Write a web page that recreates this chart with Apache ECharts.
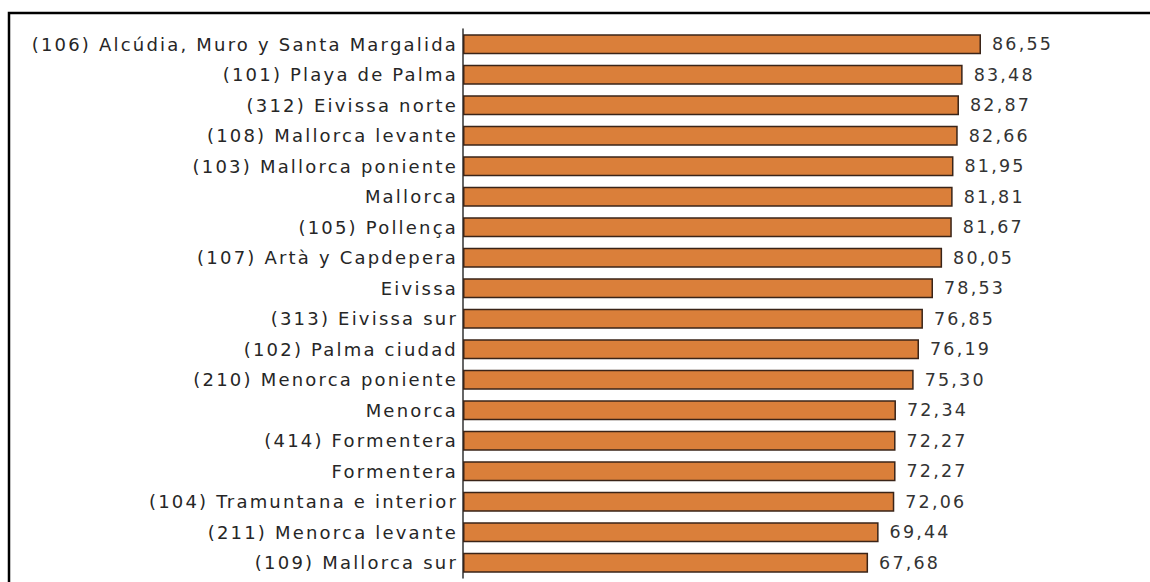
<!DOCTYPE html>
<html><head><meta charset="utf-8">
<script src="https://cdn.jsdelivr.net/npm/echarts@6/dist/echarts.min.js"></script>
<style>html,body{margin:0;padding:0;background:#fff}#c{width:1150px;height:582px}
#c text{letter-spacing:2.2px}
</style>
</head><body><div id="c"></div>
<script>
const categories = [
  "(106) Alcúdia, Muro y Santa Margalida",
  "(101) Playa de Palma",
  "(312) Eivissa norte",
  "(108) Mallorca levante",
  "(103) Mallorca poniente",
  "Mallorca",
  "(105) Pollença",
  "(107) Artà y Capdepera",
  "Eivissa",
  "(313) Eivissa sur",
  "(102) Palma ciudad",
  "(210) Menorca poniente",
  "Menorca",
  "(414) Formentera",
  "Formentera",
  "(104) Tramuntana e interior",
  "(211) Menorca levante",
  "(109) Mallorca sur"
];
const values = [86.55, 83.48, 82.87, 82.66, 81.95, 81.81, 81.67, 80.05, 78.53, 76.85, 76.19, 75.30, 72.34, 72.27, 72.27, 72.06, 69.44, 67.68];

const chart = echarts.init(document.getElementById('c'), null, {renderer: 'svg'});
chart.setOption({
  animation: false,
  backgroundColor: '#fff',
  grid: {left: 463, right: 88.5, top: 29, bottom: 4, containLabel: false},
  xAxis: {type: 'value', min: 0, max: 100, show: false},
  yAxis: {
    type: 'category', data: categories, inverse: true,
    axisLine: {show: true, lineStyle: {color: '#333', width: 1.5}},
    axisTick: {show: false},
    axisLabel: {color: '#262626', fontFamily: 'DejaVu Sans', fontSize: 18, margin: 5}
  },
  series: [{
    type: 'bar', data: values, barCategoryGap: '34%',
    itemStyle: {color: '#DA7F3A', borderColor: '#3a2418', borderWidth: 1.5},
    label: {show: true, position: 'right', distance: 11, color: '#333',
      fontFamily: 'DejaVu Sans', fontSize: 17.5,
      formatter: p => p.value.toFixed(2).replace('.', ',')}
  }],
  graphic: [{type: 'rect', shape: {x: 9, y: 13, width: 1300, height: 1000},
    style: {fill: 'none', stroke: '#000', lineWidth: 2.5}, silent: true}]
});
</script></body></html>
